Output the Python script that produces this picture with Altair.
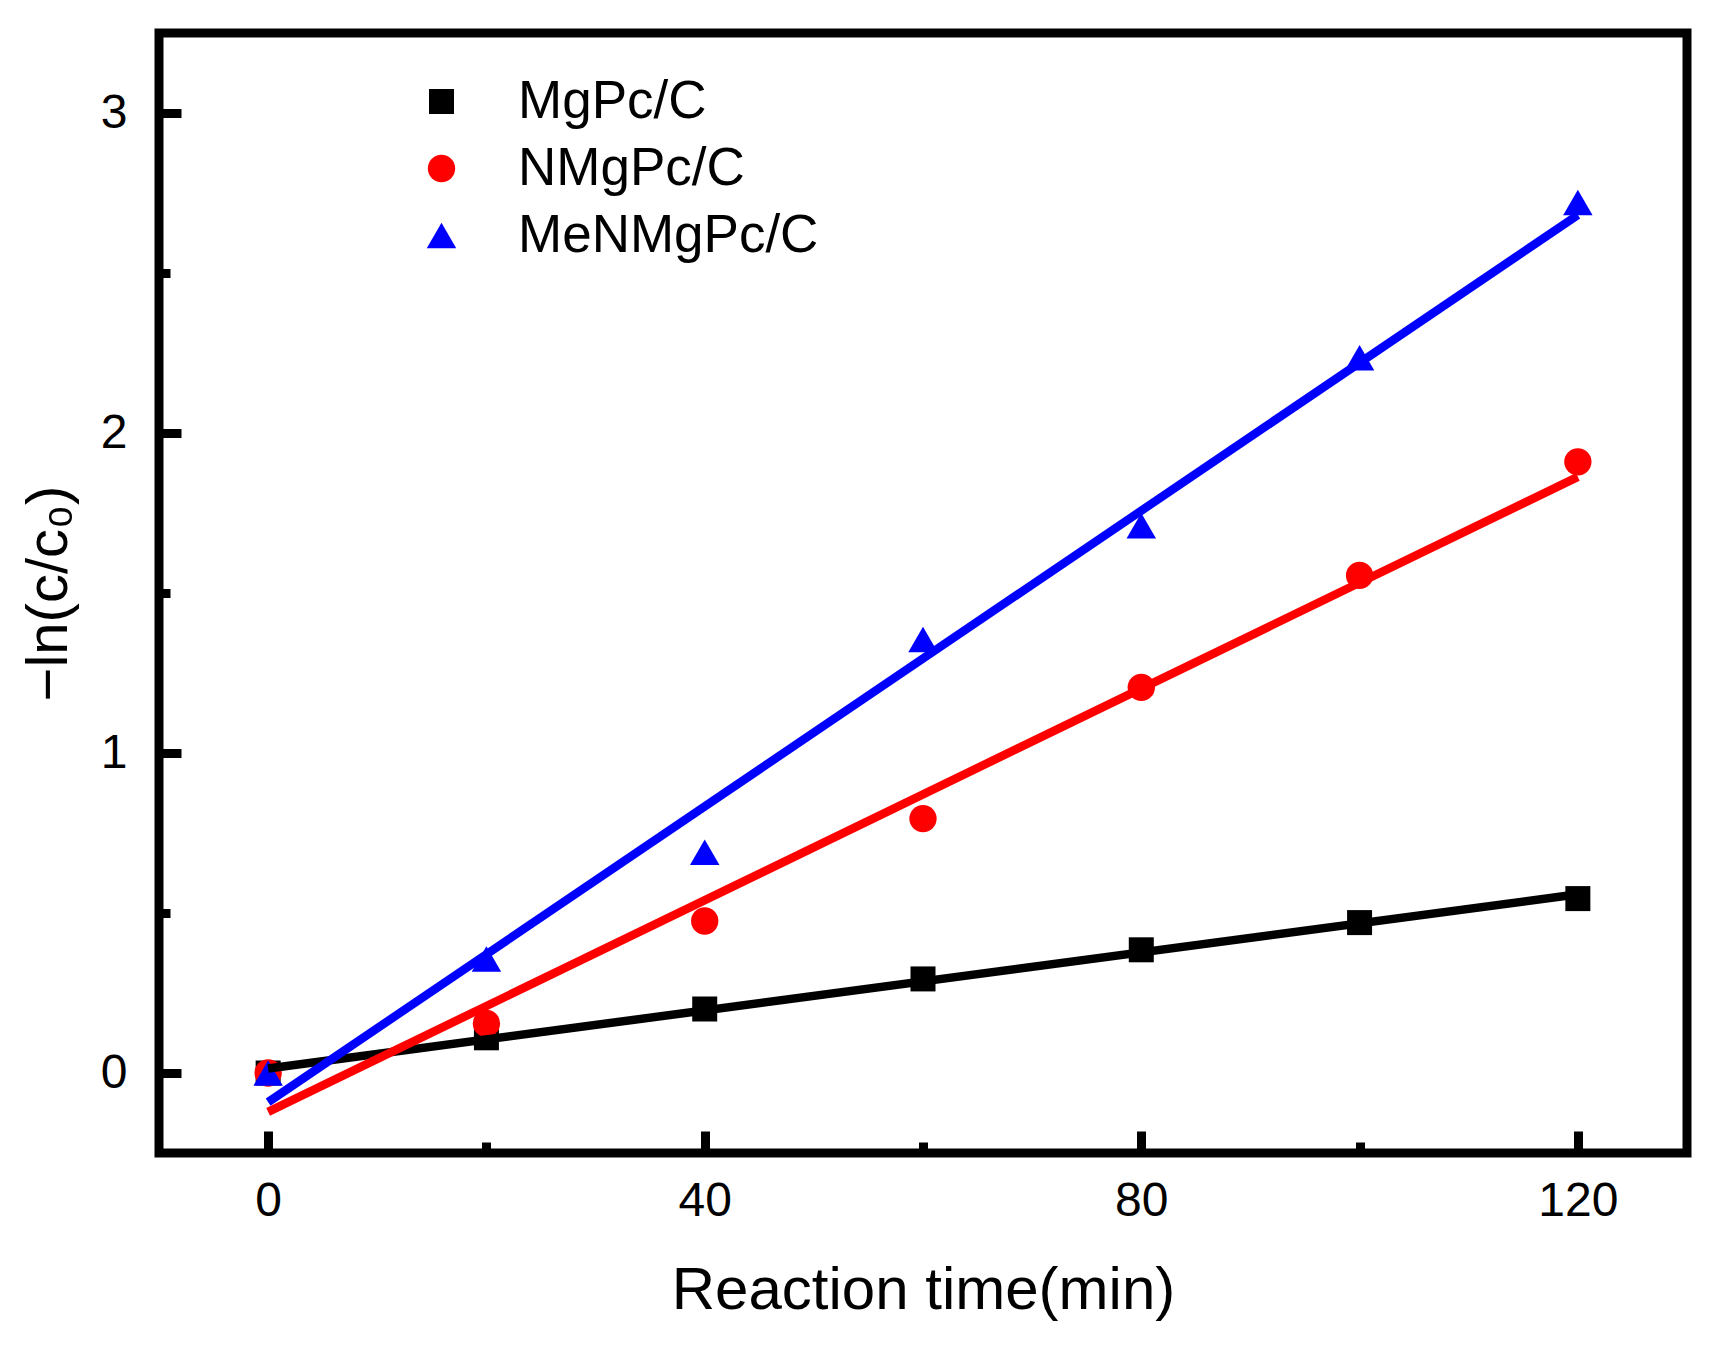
import altair as alt
import pandas as pd

# ---- data ----
time_min = [0, 20, 40, 60, 80, 100, 120]
mgpc = [0.0, 0.11, 0.20, 0.294, 0.385, 0.47, 0.545]
nmgpc = [0.0, 0.155, 0.475, 0.795, 1.205, 1.555, 1.91]
menmgpc = [0.0, 0.356, 0.69, 1.355, 1.71, 2.235, 2.72]

series_names = ["MgPc/C", "NMgPc/C", "MeNMgPc/C"]
series_colors = ["#000000", "#ff0000", "#0000ff"]
series_shapes = ["square", "circle", "triangle-up"]
series_sizes = [625, 870, 1156]

x_major = [0, 40, 80, 120]
x_minor = [20, 60, 100]
y_major = [0, 1, 2, 3]
y_minor = [0.5, 1.5, 2.5]

rows = []
for name, vals in zip(series_names, [mgpc, nmgpc, menmgpc]):
    for t, v in zip(time_min, vals):
        rows.append({"series": name, "t": t, "y": v})
df = pd.DataFrame(rows)

FONT = "Liberation Sans"

color = alt.Color("series:N", scale=alt.Scale(domain=series_names, range=series_colors),
                  legend=alt.Legend(title=None, orient="none", legendX=256, legendY=42,
                                    labelFontSize=53, labelFont=FONT, labelColor="black",
                                    labelOffset=50, labelLimit=0, rowPadding=13, padding=0,
                                    symbolStrokeWidth=0, symbolOpacity=1))
shape = alt.Shape("series:N", scale=alt.Scale(domain=series_names, range=series_shapes))
size = alt.Size("series:N", scale=alt.Scale(domain=series_names, range=series_sizes))

xscale = alt.Scale(domain=[-10, 130], nice=False, zero=False)
yscale = alt.Scale(domain=[-0.25, 3.25], nice=False, zero=False)

major_x_axis = alt.Axis(values=x_major, format="d", orient="bottom", domain=False, grid=False,
                        tickSize={"expr": "-22"}, tickWidth=9, tickColor="black",
                        labelPadding=46, labelFontSize=48, labelFont=FONT, labelColor="black",
                        title="Reaction time(min)", titleFontSize=60, titleFont=FONT,
                        titleFontWeight="normal", titleColor="black", titlePadding=36)
major_y_axis = alt.Axis(values=y_major, format="d", orient="left", domain=False, grid=False,
                        tickSize={"expr": "-22"}, tickWidth=9, tickColor="black",
                        labelPadding=54, labelFontSize=48, labelFont=FONT, labelColor="black",
                        title="\u2212ln(c/c\u2080)", titleFontSize=58, titleFont=FONT,
                        titleFontWeight="normal", titleColor="black", titlePadding=22)
minor_x_axis = alt.Axis(values=x_minor, orient="bottom", domain=False, grid=False, labels=False,
                        tickSize={"expr": "-11"}, tickWidth=9, tickColor="black", title=None)
minor_y_axis = alt.Axis(values=y_minor, orient="left", domain=False, grid=False, labels=False,
                        tickSize={"expr": "-11"}, tickWidth=9, tickColor="black", title=None)

points = alt.Chart(df).mark_point(filled=True, opacity=1, strokeWidth=0).encode(
    x=alt.X("t:Q", scale=xscale, axis=major_x_axis),
    y=alt.Y("y:Q", scale=yscale, axis=major_y_axis),
    color=color,
    shape=shape,
    size=size,
)

lines = alt.Chart(df).transform_regression(
    "t", "y", groupby=["series"]
).mark_line(strokeWidth=8.5).encode(
    x=alt.X("t:Q", scale=xscale, axis=minor_x_axis),
    y=alt.Y("y:Q", scale=yscale, axis=minor_y_axis),
    color=alt.Color("series:N", scale=alt.Scale(domain=series_names, range=series_colors), legend=None),
    detail="series:N",
)

chart = alt.layer(points, lines).resolve_axis(
    x="independent", y="independent"
).properties(
    width=1528, height=1120,
    background="white",
    autosize=alt.AutoSizeParams(type="none"),
    padding={"left": 151, "top": 25, "right": 19, "bottom": 180},
).configure_view(
    stroke="black", strokeWidth=9, fill="white"
)

chart.save("out.html", embed_options={"renderer": "svg", "actions": False})
